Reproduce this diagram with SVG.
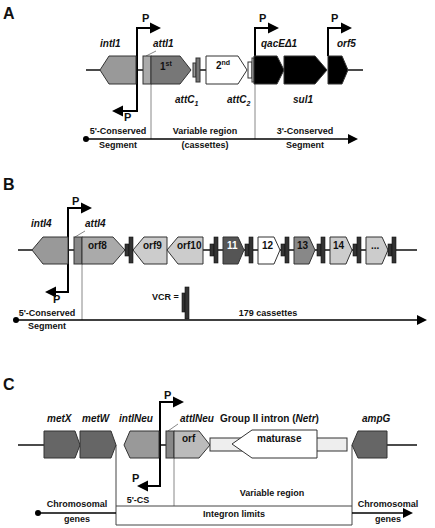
<svg xmlns="http://www.w3.org/2000/svg" width="435" height="528" viewBox="0 0 435 528">
<style>
text{font-family:"Liberation Sans",Arial,sans-serif;font-weight:bold;fill:#111}
.pl{font-size:16px}
.g{font-size:10px;font-style:italic}
.t{font-size:9px}
.n{font-size:10px}
.p{font-size:11px}
.gene{stroke:#333;stroke-width:1}
.bb{stroke:#111;stroke-width:1.5;fill:none}
.pr{stroke:#000;stroke-width:2;fill:none}
.ah{fill:#000}
.ax{stroke:#000;stroke-width:1.6;fill:none}
.thin{stroke:#888;stroke-width:1;fill:none}
.lim{stroke:#444;stroke-width:1;fill:none}
.vcr{fill:#333;stroke:#111;stroke-width:0.6}
</style>
<defs>
<marker id="aa" viewBox="0 0 10 10" refX="8" refY="5" markerWidth="10" markerHeight="10" markerUnits="userSpaceOnUse" orient="auto"><path d="M0,0L10,5L0,10z" fill="#000"/></marker>
<g id="vcrsym"><rect class="vcr" x="0" y="-6" width="4" height="12"/><rect class="vcr" x="4" y="-13" width="4" height="26"/></g>
</defs>

<!-- Panel A -->
<text class="pl" x="3" y="19">A</text>
<g id="connectorsA">
<path class="bb" d="M86,70H100M136,70H143M200,70H206M348,70H363"/>
<path class="thin" d="M151,84V139M255,84V139"/>
<path class="thin" d="M146,56L156,51"/>
<path class="pr" d="M122,111H137V28H151"/>
<polygon class="ah" points="150,22.5 161,28 150,33.5"/>
<polygon class="ah" points="123,105.5 112,111 123,116.5"/>
<path class="pr" d="M255,56V28H269"/>
<polygon class="ah" points="268,22.5 279,28 268,33.5"/>
<path class="pr" d="M328,56V28H342"/>
<polygon class="ah" points="341,22.5 352,28 341,33.5"/>
<path class="ax" d="M86,139H356" marker-end="url(#aa)"/>
<circle cx="86" cy="139" r="3" fill="#000"/>
</g>
<g id="intI1"><polygon class="gene" fill="#999" points="100,70 109,56 136,56 136,84 109,84"/><text class="g" x="100" y="47">intI1</text></g>
<g id="attI1"><rect class="gene" fill="#aaa" x="143" y="56" width="8" height="28"/><text class="g" x="153" y="47">attI1</text></g>
<g id="cas1"><polygon class="gene" fill="#777" points="151,56 180,56 191,70 180,84 151,84"/><text class="n" x="160" y="70">1<tspan font-size="7" dy="-4">st</tspan></text></g>
<g id="attC1"><rect class="gene" fill="#999" x="193" y="63" width="3" height="14"/><rect class="gene" fill="#777" x="196" y="58" width="4" height="24"/><text class="g" x="175" y="103">attC<tspan font-size="7" dy="3">1</tspan></text></g>
<g id="cas2"><polygon class="gene" fill="#fff" points="206,56 238,56 247,70 238,84 206,84"/><text class="n" x="216" y="69">2<tspan font-size="7" dy="-4">nd</tspan></text></g>
<g id="attC2"><rect class="gene" fill="#fff" x="248" y="62" width="4" height="16"/><rect class="gene" fill="#ddd" x="252" y="58" width="2" height="24"/><text class="g" x="227" y="103">attC<tspan font-size="7" dy="3">2</tspan></text></g>
<g id="qacE"><polygon class="gene" fill="#000" points="254,56 277,56 284,70 277,84 254,84"/><text class="g" x="261" y="47">qacEΔ1</text></g>
<g id="sul1"><polygon class="gene" fill="#000" points="284,56 315,56 327,70 315,84 284,84"/><text class="g" x="293" y="103">sul1</text></g>
<g id="orf5"><polygon class="gene" fill="#000" points="328,56 342,56 348,70 342,84 328,84"/><text class="g" x="337" y="47">orf5</text></g>
<text class="p" x="142" y="22">P</text>
<text class="p" x="124" y="121">P</text>
<text class="p" x="259" y="22">P</text>
<text class="p" x="331" y="22">P</text>
<text class="t" x="118" y="134" text-anchor="middle">5'-Conserved</text>
<text class="t" x="118" y="148" text-anchor="middle">Segment</text>
<text class="t" x="205" y="134" text-anchor="middle">Variable region</text>
<text class="t" x="205" y="148" text-anchor="middle">(cassettes)</text>
<text class="t" x="305" y="134" text-anchor="middle">3'-Conserved</text>
<text class="t" x="305" y="148" text-anchor="middle">Segment</text>

<!-- Panel B -->
<text class="pl" x="3" y="190">B</text>
<g id="connectorsB">
<path class="bb" d="M18,250H32M68,250H74M203,250H223M244,250H258M280,250H294M315,250H330M352,250H366M388,250H417"/>
<path class="thin" d="M82,264V320"/>
<path class="thin" d="M75,237L85,231"/>
<path class="pr" d="M55,292H68V208H82"/>
<polygon class="ah" points="81,202.5 92,208 81,213.5"/>
<polygon class="ah" points="56,286.5 45,292 56,297.5"/>
<path class="ax" d="M16,320H425" marker-end="url(#aa)"/>
<circle cx="16" cy="320" r="3" fill="#000"/>
</g>
<g id="intI4"><polygon class="gene" fill="#999" points="32,250 43,237 68,237 68,264 43,264"/><text class="g" x="31" y="227">intI4</text></g>
<g id="attI4"><rect class="gene" fill="#888" x="74" y="237" width="8" height="27"/><text class="g" x="85" y="227">attI4</text></g>
<g id="orf8"><polygon class="gene" fill="#aaa" points="82,237 113,237 125,250 113,264 82,264"/><text class="n" x="88" y="249">orf8</text></g>
<g id="orf9"><polygon class="gene" fill="#ccc" points="133,250 144,237 167,237 167,264 144,264"/><text class="n" x="143" y="249">orf9</text></g>
<g id="orf10"><polygon class="gene" fill="#ccc" points="167,250 178,237 203,237 203,264 178,264"/><text class="n" x="177" y="249">orf10</text></g>
<g id="c11"><polygon class="gene" fill="#555" points="223,237 238,237 244,250 238,264 223,264"/><text class="n" x="227" y="249" style="fill:#fff">11</text></g>
<g id="c12"><polygon class="gene" fill="#fff" points="258,237 274,237 280,250 274,264 258,264"/><text class="n" x="262" y="249">12</text></g>
<g id="c13"><polygon class="gene" fill="#888" points="294,237 309,237 315,250 309,264 294,264"/><text class="n" x="297" y="249">13</text></g>
<g id="c14"><polygon class="gene" fill="#ccc" points="330,237 346,237 352,250 346,264 330,264"/><text class="n" x="333" y="249">14</text></g>
<g id="cdots"><polygon class="gene" fill="#ccc" points="366,237 382,237 388,250 382,264 366,264"/><text class="n" x="371" y="249">...</text></g>
<g id="vcrs">
<use href="#vcrsym" x="125" y="250"/>
<use href="#vcrsym" x="210" y="250"/>
<use href="#vcrsym" x="245" y="250"/>
<use href="#vcrsym" x="281" y="250"/>
<use href="#vcrsym" x="317" y="250"/>
<use href="#vcrsym" x="353" y="250"/>
<use href="#vcrsym" x="388" y="250"/>
</g>
<g id="vcrLegend"><text class="t" x="152" y="300">VCR =</text><rect class="vcr" x="182" y="293" width="3" height="19"/><rect class="vcr" x="185" y="287" width="4" height="32"/></g>
<text class="p" x="72" y="205">P</text>
<text class="p" x="53" y="303">P</text>
<text class="t" x="47" y="316" text-anchor="middle">5'-Conserved</text>
<text class="t" x="47" y="329" text-anchor="middle">Segment</text>
<text class="t" x="268" y="316" text-anchor="middle">179 cassettes</text>

<!-- Panel C -->
<text class="pl" x="3" y="390">C</text>
<g id="connectorsC">
<path class="bb" d="M18,445H44M159,445H166M387,445H417"/>
<path class="thin" d="M174,458V506"/>
<path class="thin" d="M168,431L178,424"/>
<path class="pr" d="M147,486H160V402H174"/>
<polygon class="ah" points="173,396.5 184,402 173,407.5"/>
<polygon class="ah" points="148,480.5 137,486 148,491.5"/>
<path class="lim" d="M116,445V525H352V445M116,506H352"/>
<path class="ax" d="M38,513H116"/>
<circle cx="38" cy="513" r="3" fill="#000"/>
<path class="ax" d="M352,513H411" marker-end="url(#aa)"/>
</g>
<g id="metX"><polygon class="gene" fill="#666" points="44,431 75,431 80,445 75,458 44,458"/><text class="g" x="47" y="422">metX</text></g>
<g id="metW"><polygon class="gene" fill="#666" points="80,431 111,431 116,445 111,458 80,458"/><text class="g" x="82" y="422">metW</text></g>
<g id="intINeu"><polygon class="gene" fill="#999" points="124,445 130,431 159,431 159,458 130,458"/><text class="g" x="119" y="422">intINeu</text></g>
<g id="attINeu"><rect class="gene" fill="#888" x="166" y="431" width="8" height="27"/><text class="g" x="180" y="422">attINeu</text></g>
<g id="orf"><polygon class="gene" fill="#bbb" points="174,431 199,431 210,445 199,458 174,458"/><text class="n" x="182" y="442">orf</text></g>
<g id="intron"><rect class="gene" fill="#eee" x="210" y="438" width="137" height="13"/><polygon class="gene" fill="#fff" points="232,444 252,430 317,430 317,458 252,458"/><text class="n" x="257" y="442">maturase</text><text class="n" x="220" y="422">Group II intron (<tspan font-style="italic">Netr</tspan>)</text></g>
<g id="ampG"><polygon class="gene" fill="#666" points="352,445 358,431 387,431 387,458 358,458"/><text class="g" x="362" y="422">ampG</text></g>
<text class="p" x="164" y="399">P</text>
<text class="p" x="132" y="482">P</text>
<text class="t" x="138" y="503" text-anchor="middle">5'-CS</text>
<text class="t" x="272" y="496" text-anchor="middle">Variable region</text>
<text class="t" x="234" y="517" text-anchor="middle">Integron limits</text>
<text class="t" x="77" y="507" text-anchor="middle">Chromosomal</text>
<text class="t" x="77" y="522" text-anchor="middle">genes</text>
<text class="t" x="388" y="507" text-anchor="middle">Chromosomal</text>
<text class="t" x="388" y="522" text-anchor="middle">genes</text>
</svg>
